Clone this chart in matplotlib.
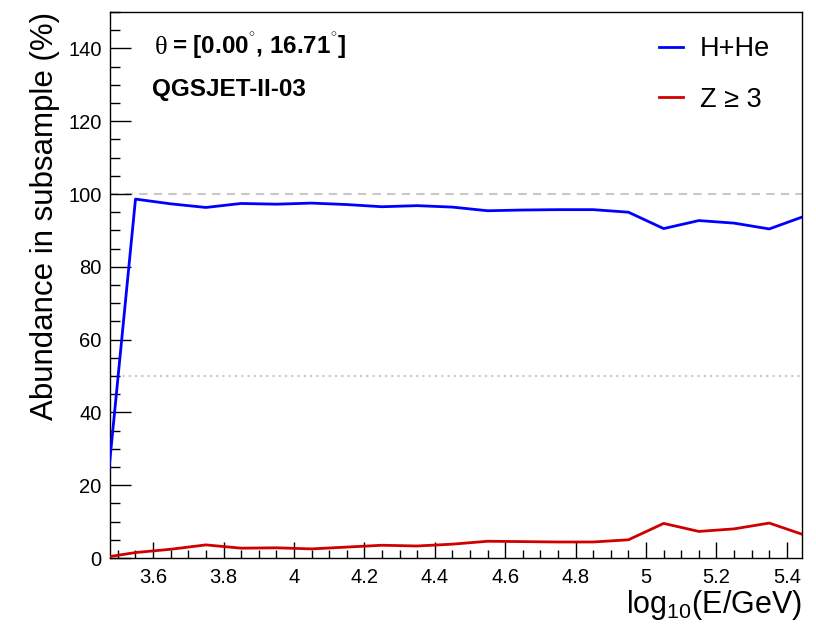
import matplotlib
matplotlib.use("Agg")
import matplotlib.pyplot as plt
from matplotlib.ticker import MultipleLocator

plt.rcParams['font.family'] = ['Liberation Sans', 'DejaVu Sans']
plt.rcParams['mathtext.fontset'] = 'custom'
plt.rcParams['mathtext.rm'] = 'Liberation Sans'
plt.rcParams['mathtext.bf'] = 'Liberation Sans:bold'

# log10(E/GeV) bin centres
energy = [3.45, 3.55, 3.65, 3.75, 3.85, 3.95, 4.05, 4.15, 4.25, 4.35, 4.45,
          4.55, 4.65, 4.75, 4.85, 4.95, 5.05, 5.15, 5.25, 5.35, 5.45]
# abundance (%) of light primaries
light = [0.0, 98.6, 97.3, 96.3, 97.4, 97.2, 97.5, 97.1, 96.5, 96.8, 96.4,
         95.4, 95.6, 95.7, 95.7, 95.0, 90.5, 92.7, 92.0, 90.4, 93.9]
# abundance (%) of heavier primaries
heavy = [0.0, 1.5, 2.4, 3.6, 2.7, 2.8, 2.5, 3.0, 3.5, 3.3, 3.8,
         4.6, 4.5, 4.4, 4.4, 5.0, 9.5, 7.3, 8.0, 9.6, 6.3]
labels = ["H+He", "Z ≥ 3"]

fig = plt.figure(figsize=(8.16, 6.30), dpi=100)
ax = fig.add_axes([110/816, 72/630, 692/816, 546/630])

ax.axhline(100, color='#c8c8c8', lw=1.5, ls=(0, (4, 3)), zorder=1)
ax.axhline(50, color='#c8c8c8', lw=1.5, ls=(0, (1, 2)), zorder=1)

ax.plot(energy, light, color='#0000ff', lw=2.0, zorder=3, label=labels[0])
ax.plot(energy, heavy, color='#d00000', lw=2.0, zorder=3, label=labels[1])

ax.set_xlim(3.4776, 5.443)
ax.set_ylim(0, 150)

ax.xaxis.set_major_locator(MultipleLocator(0.2))
ax.xaxis.set_minor_locator(MultipleLocator(0.05))
ax.yaxis.set_major_locator(MultipleLocator(20))
ax.yaxis.set_minor_locator(MultipleLocator(5))
ax.xaxis.set_major_formatter(plt.FuncFormatter(lambda v, p: f"{v:g}"))

ax.tick_params(axis='x', which='major', direction='in', length=11.8, width=1.0,
               labelsize=14.5, pad=7, top=False)
ax.tick_params(axis='x', which='minor', direction='in', length=5.9, width=1.0, top=False)
ax.tick_params(axis='y', which='major', direction='in', length=15.0, width=1.0,
               labelsize=14.5, pad=6, right=False)
ax.tick_params(axis='y', which='minor', direction='in', length=7.5, width=1.0, right=False)

for s in ax.spines.values():
    s.set_linewidth(1.0)
    s.set_color('black')

ax.set_xlabel(r"log$_{\mathregular{10}}$(E/GeV)", fontsize=22, loc='right', labelpad=1)
ax.set_ylabel("Abundance in subsample (%)", fontsize=22.5, loc='top', labelpad=6)

ax.text(0.065, 0.923, "θ", transform=ax.transAxes, fontsize=19,
        family=['Liberation Serif', 'DejaVu Serif'], va='baseline')
ax.text(0.090, 0.923, r"= [0.00$^{^{\circ}}$, 16.71$^{^{\circ}}$]", transform=ax.transAxes,
        fontsize=17.5, fontweight='bold', va='baseline')
ax.text(0.061, 0.846, "QGSJET-II-03", transform=ax.transAxes, fontsize=17.5,
        fontweight='bold', va='baseline')

leg = ax.legend(loc='upper left', bbox_to_anchor=(0.7934, 0.956), frameon=False,
                fontsize=19.5, handlelength=0.89, handletextpad=0.63,
                labelspacing=0.91, borderpad=0, borderaxespad=0)

fig.savefig("out.png", dpi=100)
